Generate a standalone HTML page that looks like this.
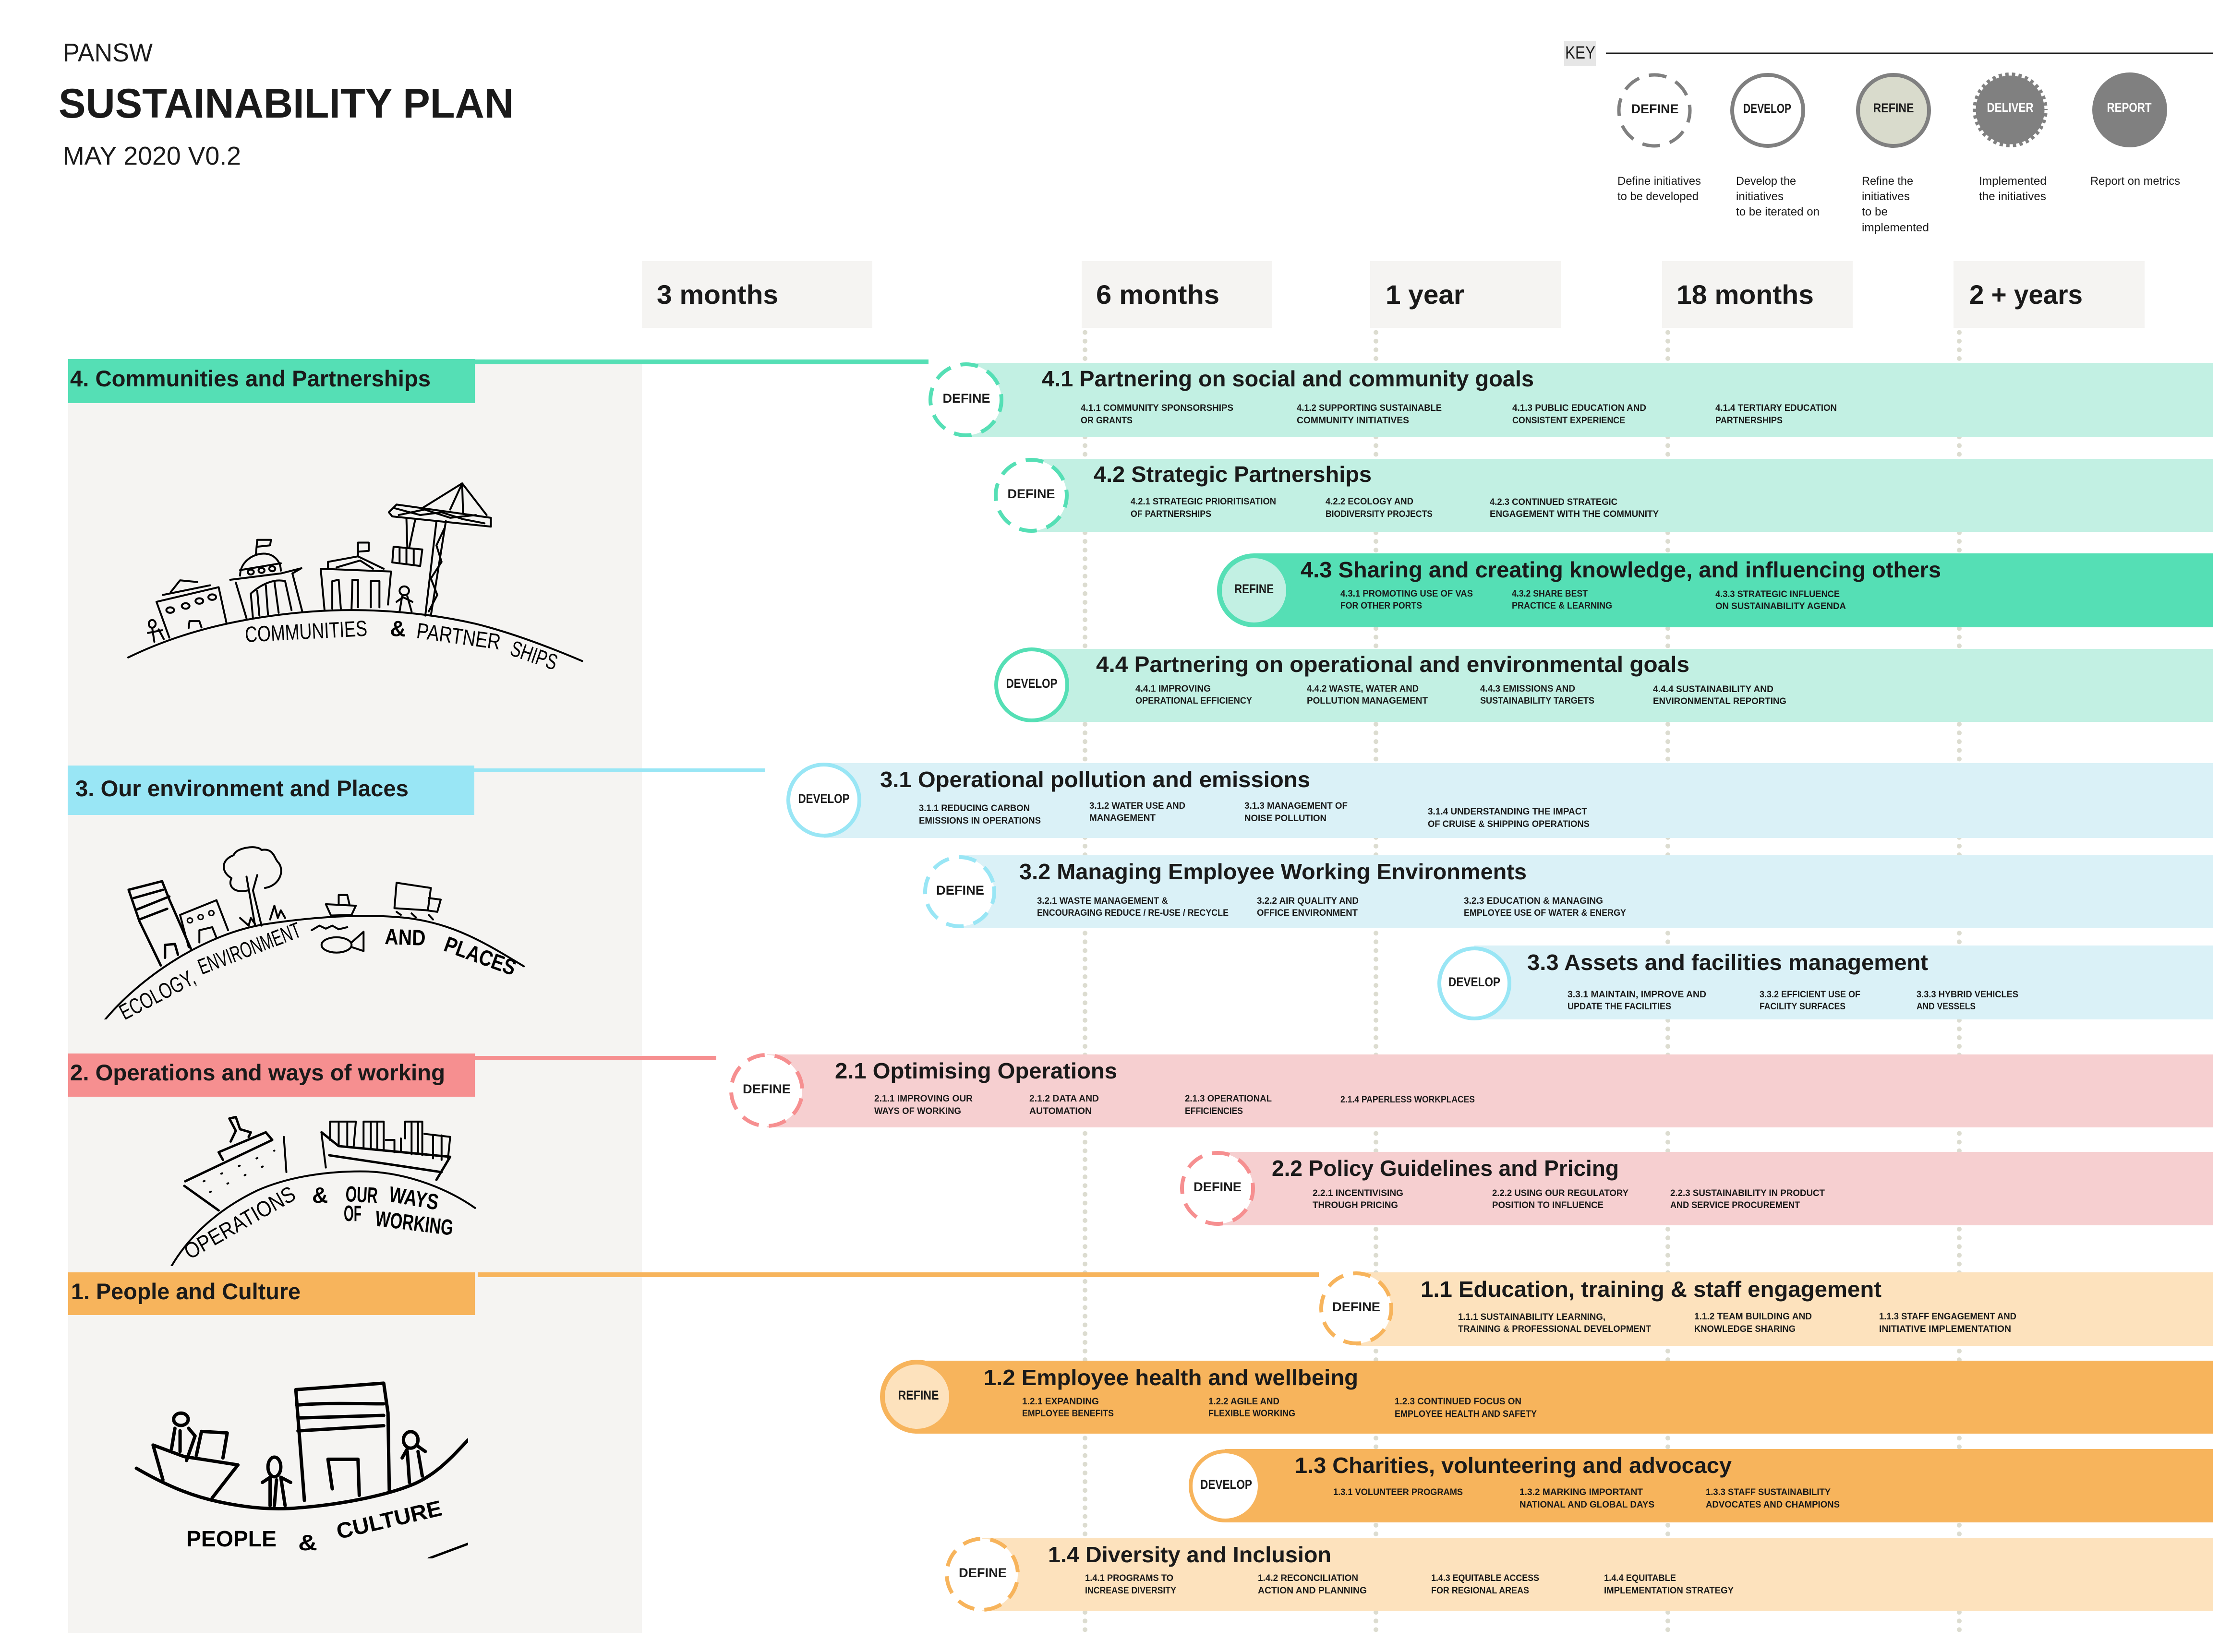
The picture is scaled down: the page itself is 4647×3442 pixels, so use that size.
<!DOCTYPE html>
<html lang="en"><head><meta charset="utf-8"><title>PANSW Sustainability Plan</title>
<style>
html,body{margin:0;padding:0;background:#fff}
svg{display:block}
text{font-family:"Liberation Sans",sans-serif;fill:#1a1a1a}
.t{font-size:46px;font-weight:700}
.s{font-size:19px;font-weight:700}
.c{font-size:27px;font-weight:700;text-anchor:middle}
.l{font-size:47px;font-weight:700}
.m{font-size:56px;font-weight:700}
.k{font-size:24px}
.d{fill:#fff;stroke-width:8;stroke-dasharray:37 21.1}
.o{stroke-width:8}
.h path,.h ellipse{fill:none;stroke:#000;stroke-linecap:round;stroke-linejoin:round;vector-effect:non-scaling-stroke}
.h text{font-size:46px;fill:#000}
</style></head><body>
<svg width="4647" height="3442" viewBox="0 0 4647 3442" xmlns="http://www.w3.org/2000/svg">
<defs>
<clipPath id="c3"><rect x="100" y="1700" width="1200" height="424"/></clipPath>
<clipPath id="c2"><rect x="300" y="2290" width="1000" height="348"/></clipPath>
<clipPath id="c1"><rect x="250" y="2800" width="725" height="447"/></clipPath>
</defs>
<rect width="4647" height="3442" fill="#fff"/>

<!-- header -->
<text x="131" y="128" font-size="54" textLength="187" lengthAdjust="spacingAndGlyphs">PANSW</text>
<text x="122" y="245" font-size="86" font-weight="700" textLength="948" lengthAdjust="spacingAndGlyphs">SUSTAINABILITY PLAN</text>
<text x="131" y="343" font-size="54" textLength="371" lengthAdjust="spacingAndGlyphs">MAY 2020 V0.2</text>

<!-- key -->
<rect x="3258" y="86" width="66" height="51" fill="#e6e6e6"/>
<text x="3260" y="122" font-size="37" textLength="63" lengthAdjust="spacingAndGlyphs">KEY</text>
<rect x="3345" y="109.500" width="1264" height="3" fill="#1a1a1a"/>
<circle cx="3446" cy="230" r="74" fill="#fff" stroke="#808080" stroke-width="7" stroke-dasharray="37 21.1" transform="rotate(-9 3446 230)"/>
<circle cx="3682" cy="230" r="74" fill="#fff" stroke="#808080" stroke-width="8"/>
<circle cx="3944" cy="230" r="74" fill="#d9dbcc" stroke="#808080" stroke-width="8"/>
<circle cx="4187" cy="229" r="78" fill="#808080"/>
<circle cx="4187" cy="229" r="75" fill="none" stroke="#fff" stroke-width="7" stroke-dasharray="7 7"/>
<circle cx="4436" cy="229" r="78" fill="#808080"/>
<text class="c" x="3447" y="236" textLength="99" lengthAdjust="spacingAndGlyphs">DEFINE</text>
<text class="c" x="3681" y="235" textLength="100" lengthAdjust="spacingAndGlyphs">DEVELOP</text>
<text class="c" x="3944" y="234" textLength="85" lengthAdjust="spacingAndGlyphs">REFINE</text>
<text class="c" x="4187" y="233" textLength="97" lengthAdjust="spacingAndGlyphs" style="fill:#fff">DELIVER</text>
<text class="c" x="4435" y="233" textLength="93" lengthAdjust="spacingAndGlyphs" style="fill:#fff">REPORT</text>
<text class="k" x="3369" y="385" textLength="174" lengthAdjust="spacingAndGlyphs">Define initiatives</text>
<text class="k" x="3369" y="417" textLength="169" lengthAdjust="spacingAndGlyphs">to be developed</text>
<text class="k" x="3616" y="385" textLength="125" lengthAdjust="spacingAndGlyphs">Develop the</text>
<text class="k" x="3616" y="417" textLength="99" lengthAdjust="spacingAndGlyphs">initiatives</text>
<text class="k" x="3616" y="449" textLength="174" lengthAdjust="spacingAndGlyphs">to be iterated on</text>
<text class="k" x="3878" y="385" textLength="107" lengthAdjust="spacingAndGlyphs">Refine the</text>
<text class="k" x="3878" y="417" textLength="100" lengthAdjust="spacingAndGlyphs">initiatives</text>
<text class="k" x="3878" y="449" textLength="54" lengthAdjust="spacingAndGlyphs">to be</text>
<text class="k" x="3878" y="482" textLength="140" lengthAdjust="spacingAndGlyphs">implemented</text>
<text class="k" x="4122" y="385" textLength="141" lengthAdjust="spacingAndGlyphs">Implemented</text>
<text class="k" x="4122" y="417" textLength="140" lengthAdjust="spacingAndGlyphs">the initiatives</text>
<text class="k" x="4354" y="385" textLength="187" lengthAdjust="spacingAndGlyphs">Report on metrics</text>

<!-- time headers -->
<g fill="#f5f4f2">
<rect x="1337" y="544" width="480" height="139"/>
<rect x="2253" y="544" width="397" height="139"/>
<rect x="2854" y="544" width="397" height="139"/>
<rect x="3462" y="544" width="397" height="139"/>
<rect x="4069" y="544" width="398" height="139"/>
</g>
<text class="m" x="1368" y="633" textLength="253" lengthAdjust="spacingAndGlyphs">3 months</text>
<text class="m" x="2283" y="633" textLength="257" lengthAdjust="spacingAndGlyphs">6 months</text>
<text class="m" x="2886" y="633" textLength="164" lengthAdjust="spacingAndGlyphs">1 year</text>
<text class="m" x="3492" y="633" textLength="286" lengthAdjust="spacingAndGlyphs">18 months</text>
<text class="m" x="4102" y="633" textLength="236" lengthAdjust="spacingAndGlyphs">2 + years</text>

<!-- left panel -->
<rect x="142" y="750" width="1195" height="2653" fill="#f5f4f2"/>

<!-- dotted time lines -->
<g stroke="#dcdcd0" stroke-width="10" stroke-linecap="round" stroke-dasharray="0 18.14" fill="none">
<path d="M2260 692.600V3400"/><path d="M2866 692.600V3400"/><path d="M3474 692.600V3400"/><path d="M4081 692.600V3400"/>
</g>

<!-- connector lines -->
<rect x="989" y="749" width="945" height="10" fill="#55dfb5"/>
<rect x="988" y="1601" width="606" height="8" fill="#99e6f5"/>
<rect x="989" y="2200" width="503" height="8" fill="#f68f90"/>
<rect x="995" y="2651" width="1752" height="10" fill="#f7b45c"/>

<!-- section labels -->
<rect x="142" y="748" width="847" height="92" fill="#55dfb5"/>
<rect x="141" y="1595" width="847" height="103" fill="#99e6f5"/>
<rect x="142" y="2195" width="847" height="90" fill="#f68f90"/>
<rect x="142" y="2651" width="847" height="89" fill="#f7b45c"/>
<text class="l" x="146" y="805" textLength="751" lengthAdjust="spacingAndGlyphs">4. Communities and Partnerships</text>
<text class="l" x="157" y="1659" textLength="694" lengthAdjust="spacingAndGlyphs">3. Our environment and Places</text>
<text class="l" x="146" y="2251" textLength="781" lengthAdjust="spacingAndGlyphs">2. Operations and ways of working</text>
<text class="l" x="148" y="2707" textLength="478" lengthAdjust="spacingAndGlyphs">1. People and Culture</text>

<!-- bars -->
<rect x="2012" y="756" width="2597" height="154" fill="#c2f0e3"/>
<rect x="2148" y="956" width="2461" height="152" fill="#c2f0e3"/>
<rect x="2612" y="1153" width="1997" height="154" fill="#55dfb5"/>
<rect x="2149" y="1352" width="2460" height="152" fill="#c2f0e3"/>
<rect x="1716" y="1590" width="2893" height="156" fill="#daf1f7"/>
<rect x="1999" y="1782" width="2610" height="152" fill="#daf1f7"/>
<rect x="3071" y="1970" width="1538" height="154" fill="#daf1f7"/>
<rect x="1597" y="2197" width="3012" height="152" fill="#f6cfd0"/>
<rect x="2536" y="2400" width="2073" height="153" fill="#f6cfd0"/>
<rect x="2825" y="2651" width="1784" height="153" fill="#fde2bd"/>
<rect x="1910" y="2835" width="2699" height="152" fill="#f7b45c"/>
<rect x="2552" y="3019" width="2057" height="153" fill="#f7b45c"/>
<rect x="2046" y="3204" width="2563" height="152" fill="#fde2bd"/>

<!-- circles -->
<circle class="d" cx="2012" cy="833" r="74" stroke="#55dfb5" transform="rotate(-9 2012 833)"/>
<circle class="d" cx="2148" cy="1032" r="74" stroke="#55dfb5" transform="rotate(-9 2148 1032)"/>
<circle cx="2612" cy="1230" r="72" fill="#c2f0e3" stroke="#55dfb5" stroke-width="10"/>
<circle class="o" cx="2149" cy="1427" r="74" fill="#fff" stroke="#55dfb5"/>
<circle class="o" cx="1716" cy="1667" r="74" fill="#fff" stroke="#99e6f5"/>
<circle class="d" cx="1999" cy="1858" r="72" stroke="#99e6f5" transform="rotate(-9 1999 1858)"/>
<circle class="o" cx="3071" cy="2049" r="73" fill="#fff" stroke="#99e6f5"/>
<circle class="d" cx="1597" cy="2272" r="74" stroke="#f68f90" transform="rotate(13 1597 2272)"/>
<circle class="d" cx="2536" cy="2476" r="74" stroke="#f68f90" transform="rotate(-9 2536 2476)"/>
<circle class="d" cx="2825" cy="2726" r="73" stroke="#f7b45c" transform="rotate(-9 2825 2726)"/>
<circle cx="1910" cy="2910" r="72" fill="#fde2bd" stroke="#f7b45c" stroke-width="10"/>
<circle class="o" cx="2552" cy="3096" r="72" fill="#fff" stroke="#f7b45c"/>
<circle class="d" cx="2046" cy="3280" r="74" stroke="#f7b45c" transform="rotate(13 2046 3280)"/>

<text class="c" x="2013" y="839" textLength="99" lengthAdjust="spacingAndGlyphs">DEFINE</text>
<text class="c" x="2148" y="1038" textLength="99" lengthAdjust="spacingAndGlyphs">DEFINE</text>
<text class="c" x="2612" y="1236" textLength="82" lengthAdjust="spacingAndGlyphs">REFINE</text>
<text class="c" x="2149" y="1433" textLength="107" lengthAdjust="spacingAndGlyphs">DEVELOP</text>
<text class="c" x="1716" y="1673" textLength="107" lengthAdjust="spacingAndGlyphs">DEVELOP</text>
<text class="c" x="2000" y="1864" textLength="100" lengthAdjust="spacingAndGlyphs">DEFINE</text>
<text class="c" x="3071" y="2055" textLength="108" lengthAdjust="spacingAndGlyphs">DEVELOP</text>
<text class="c" x="1597" y="2278" textLength="100" lengthAdjust="spacingAndGlyphs">DEFINE</text>
<text class="c" x="2536" y="2482" textLength="100" lengthAdjust="spacingAndGlyphs">DEFINE</text>
<text class="c" x="2825" y="2732" textLength="100" lengthAdjust="spacingAndGlyphs">DEFINE</text>
<text class="c" x="1913" y="2916" textLength="85" lengthAdjust="spacingAndGlyphs">REFINE</text>
<text class="c" x="2554" y="3102" textLength="108" lengthAdjust="spacingAndGlyphs">DEVELOP</text>
<text class="c" x="2047" y="3286" textLength="100" lengthAdjust="spacingAndGlyphs">DEFINE</text>

<!-- 4.x titles -->
<text class="t" x="2170" y="805" textLength="1025" lengthAdjust="spacingAndGlyphs">4.1 Partnering on social and community goals</text>
<text class="s" x="2251" y="856" textLength="318" lengthAdjust="spacingAndGlyphs">4.1.1 COMMUNITY SPONSORSHIPS</text>
<text class="s" x="2251" y="882" textLength="108" lengthAdjust="spacingAndGlyphs">OR GRANTS</text>
<text class="s" x="2701" y="856" textLength="302" lengthAdjust="spacingAndGlyphs">4.1.2 SUPPORTING SUSTAINABLE</text>
<text class="s" x="2701" y="882" textLength="234" lengthAdjust="spacingAndGlyphs">COMMUNITY INITIATIVES</text>
<text class="s" x="3150" y="856" textLength="279" lengthAdjust="spacingAndGlyphs">4.1.3 PUBLIC EDUCATION AND</text>
<text class="s" x="3150" y="882" textLength="235" lengthAdjust="spacingAndGlyphs">CONSISTENT EXPERIENCE</text>
<text class="s" x="3573" y="856" textLength="253" lengthAdjust="spacingAndGlyphs">4.1.4 TERTIARY EDUCATION</text>
<text class="s" x="3573" y="882" textLength="140" lengthAdjust="spacingAndGlyphs">PARTNERSHIPS</text>

<text class="t" x="2278" y="1004" textLength="579" lengthAdjust="spacingAndGlyphs">4.2 Strategic Partnerships</text>
<text class="s" x="2355" y="1051" textLength="303" lengthAdjust="spacingAndGlyphs">4.2.1 STRATEGIC PRIORITISATION</text>
<text class="s" x="2355" y="1077" textLength="168" lengthAdjust="spacingAndGlyphs">OF PARTNERSHIPS</text>
<text class="s" x="2761" y="1051" textLength="183" lengthAdjust="spacingAndGlyphs">4.2.2 ECOLOGY AND</text>
<text class="s" x="2761" y="1077" textLength="223" lengthAdjust="spacingAndGlyphs">BIODIVERSITY PROJECTS</text>
<text class="s" x="3103" y="1052" textLength="266" lengthAdjust="spacingAndGlyphs">4.2.3 CONTINUED STRATEGIC</text>
<text class="s" x="3103" y="1077" textLength="352" lengthAdjust="spacingAndGlyphs">ENGAGEMENT WITH THE COMMUNITY</text>

<text class="t" x="2709" y="1203" textLength="1334" lengthAdjust="spacingAndGlyphs">4.3 Sharing and creating knowledge, and influencing others</text>
<text class="s" x="2792" y="1243" textLength="276" lengthAdjust="spacingAndGlyphs">4.3.1 PROMOTING USE OF VAS</text>
<text class="s" x="2792" y="1268" textLength="170" lengthAdjust="spacingAndGlyphs">FOR OTHER PORTS</text>
<text class="s" x="3149" y="1243" textLength="158" lengthAdjust="spacingAndGlyphs">4.3.2 SHARE BEST</text>
<text class="s" x="3149" y="1268" textLength="209" lengthAdjust="spacingAndGlyphs">PRACTICE &amp; LEARNING</text>
<text class="s" x="3573" y="1244" textLength="259" lengthAdjust="spacingAndGlyphs">4.3.3 STRATEGIC INFLUENCE</text>
<text class="s" x="3573" y="1269" textLength="272" lengthAdjust="spacingAndGlyphs">ON SUSTAINABILITY AGENDA</text>

<text class="t" x="2283" y="1400" textLength="1236" lengthAdjust="spacingAndGlyphs">4.4 Partnering on operational and environmental goals</text>
<text class="s" x="2365" y="1441" textLength="157" lengthAdjust="spacingAndGlyphs">4.4.1 IMPROVING</text>
<text class="s" x="2365" y="1466" textLength="243" lengthAdjust="spacingAndGlyphs">OPERATIONAL EFFICIENCY</text>
<text class="s" x="2722" y="1441" textLength="233" lengthAdjust="spacingAndGlyphs">4.4.2 WASTE, WATER AND</text>
<text class="s" x="2722" y="1466" textLength="252" lengthAdjust="spacingAndGlyphs">POLLUTION MANAGEMENT</text>
<text class="s" x="3083" y="1441" textLength="198" lengthAdjust="spacingAndGlyphs">4.4.3 EMISSIONS AND</text>
<text class="s" x="3083" y="1466" textLength="238" lengthAdjust="spacingAndGlyphs">SUSTAINABILITY TARGETS</text>
<text class="s" x="3443" y="1442" textLength="251" lengthAdjust="spacingAndGlyphs">4.4.4 SUSTAINABILITY  AND</text>
<text class="s" x="3443" y="1467" textLength="278" lengthAdjust="spacingAndGlyphs">ENVIRONMENTAL REPORTING</text>

<!-- 3.x -->
<text class="t" x="1833" y="1640" textLength="896" lengthAdjust="spacingAndGlyphs">3.1 Operational pollution and emissions</text>
<text class="s" x="1914" y="1690" textLength="231" lengthAdjust="spacingAndGlyphs">3.1.1 REDUCING CARBON</text>
<text class="s" x="1914" y="1716" textLength="254" lengthAdjust="spacingAndGlyphs">EMISSIONS IN OPERATIONS</text>
<text class="s" x="2269" y="1685" textLength="200" lengthAdjust="spacingAndGlyphs">3.1.2 WATER USE AND</text>
<text class="s" x="2269" y="1710" textLength="138" lengthAdjust="spacingAndGlyphs">MANAGEMENT</text>
<text class="s" x="2592" y="1685" textLength="215" lengthAdjust="spacingAndGlyphs">3.1.3 MANAGEMENT OF</text>
<text class="s" x="2592" y="1711" textLength="171" lengthAdjust="spacingAndGlyphs">NOISE POLLUTION</text>
<text class="s" x="2974" y="1697" textLength="332" lengthAdjust="spacingAndGlyphs">3.1.4 UNDERSTANDING THE IMPACT</text>
<text class="s" x="2974" y="1723" textLength="337" lengthAdjust="spacingAndGlyphs">OF CRUISE &amp; SHIPPING OPERATIONS</text>

<text class="t" x="2123" y="1832" textLength="1057" lengthAdjust="spacingAndGlyphs">3.2 Managing Employee Working Environments</text>
<text class="s" x="2160" y="1883" textLength="273" lengthAdjust="spacingAndGlyphs">3.2.1 WASTE MANAGEMENT &amp;</text>
<text class="s" x="2160" y="1908" textLength="399" lengthAdjust="spacingAndGlyphs">ENCOURAGING REDUCE / RE-USE / RECYCLE</text>
<text class="s" x="2618" y="1883" textLength="212" lengthAdjust="spacingAndGlyphs">3.2.2 AIR QUALITY AND</text>
<text class="s" x="2618" y="1908" textLength="210" lengthAdjust="spacingAndGlyphs">OFFICE ENVIRONMENT</text>
<text class="s" x="3049" y="1883" textLength="290" lengthAdjust="spacingAndGlyphs">3.2.3 EDUCATION &amp; MANAGING</text>
<text class="s" x="3049" y="1908" textLength="338" lengthAdjust="spacingAndGlyphs">EMPLOYEE USE OF WATER &amp; ENERGY</text>

<text class="t" x="3181" y="2021" textLength="835" lengthAdjust="spacingAndGlyphs">3.3 Assets and facilities management</text>
<text class="s" x="3265" y="2078" textLength="289" lengthAdjust="spacingAndGlyphs">3.3.1 MAINTAIN, IMPROVE AND</text>
<text class="s" x="3265" y="2103" textLength="216" lengthAdjust="spacingAndGlyphs">UPDATE THE FACILITIES</text>
<text class="s" x="3665" y="2078" textLength="210" lengthAdjust="spacingAndGlyphs">3.3.2 EFFICIENT USE OF</text>
<text class="s" x="3665" y="2103" textLength="179" lengthAdjust="spacingAndGlyphs">FACILITY SURFACES</text>
<text class="s" x="3992" y="2078" textLength="212" lengthAdjust="spacingAndGlyphs">3.3.3 HYBRID VEHICLES</text>
<text class="s" x="3992" y="2103" textLength="123" lengthAdjust="spacingAndGlyphs">AND VESSELS</text>

<!-- 2.x -->
<text class="t" x="1739" y="2247" textLength="588" lengthAdjust="spacingAndGlyphs">2.1 Optimising Operations</text>
<text class="s" x="1821" y="2295" textLength="205" lengthAdjust="spacingAndGlyphs">2.1.1 IMPROVING OUR</text>
<text class="s" x="1821" y="2321" textLength="181" lengthAdjust="spacingAndGlyphs">WAYS OF WORKING</text>
<text class="s" x="2144" y="2295" textLength="145" lengthAdjust="spacingAndGlyphs">2.1.2 DATA AND</text>
<text class="s" x="2144" y="2321" textLength="130" lengthAdjust="spacingAndGlyphs">AUTOMATION</text>
<text class="s" x="2468" y="2295" textLength="181" lengthAdjust="spacingAndGlyphs">2.1.3 OPERATIONAL</text>
<text class="s" x="2468" y="2321" textLength="121" lengthAdjust="spacingAndGlyphs">EFFICIENCIES</text>
<text class="s" x="2792" y="2297" textLength="280" lengthAdjust="spacingAndGlyphs">2.1.4 PAPERLESS WORKPLACES</text>

<text class="t" x="2649" y="2450" textLength="723" lengthAdjust="spacingAndGlyphs">2.2 Policy Guidelines and Pricing</text>
<text class="s" x="2734" y="2492" textLength="189" lengthAdjust="spacingAndGlyphs">2.2.1 INCENTIVISING</text>
<text class="s" x="2734" y="2517" textLength="178" lengthAdjust="spacingAndGlyphs">THROUGH PRICING</text>
<text class="s" x="3108" y="2492" textLength="284" lengthAdjust="spacingAndGlyphs">2.2.2 USING OUR REGULATORY</text>
<text class="s" x="3108" y="2517" textLength="232" lengthAdjust="spacingAndGlyphs">POSITION TO INFLUENCE</text>
<text class="s" x="3479" y="2492" textLength="322" lengthAdjust="spacingAndGlyphs">2.2.3 SUSTAINABILITY IN PRODUCT</text>
<text class="s" x="3479" y="2517" textLength="270" lengthAdjust="spacingAndGlyphs">AND SERVICE PROCUREMENT</text>

<!-- 1.x -->
<text class="t" x="2959" y="2702" textLength="960" lengthAdjust="spacingAndGlyphs">1.1 Education, training &amp; staff engagement</text>
<text class="s" x="3037" y="2750" textLength="307" lengthAdjust="spacingAndGlyphs">1.1.1 SUSTAINABILITY LEARNING,</text>
<text class="s" x="3037" y="2775" textLength="402" lengthAdjust="spacingAndGlyphs">TRAINING &amp; PROFESSIONAL DEVELOPMENT</text>
<text class="s" x="3529" y="2749" textLength="245" lengthAdjust="spacingAndGlyphs">1.1.2 TEAM BUILDING AND</text>
<text class="s" x="3529" y="2775" textLength="211" lengthAdjust="spacingAndGlyphs">KNOWLEDGE SHARING</text>
<text class="s" x="3914" y="2749" textLength="286" lengthAdjust="spacingAndGlyphs">1.1.3 STAFF ENGAGEMENT AND</text>
<text class="s" x="3914" y="2775" textLength="275" lengthAdjust="spacingAndGlyphs">INITIATIVE IMPLEMENTATION</text>

<text class="t" x="2049" y="2886" textLength="780" lengthAdjust="spacingAndGlyphs">1.2 Employee health and wellbeing</text>
<text class="s" x="2129" y="2926" textLength="160" lengthAdjust="spacingAndGlyphs">1.2.1 EXPANDING</text>
<text class="s" x="2129" y="2951" textLength="191" lengthAdjust="spacingAndGlyphs">EMPLOYEE BENEFITS</text>
<text class="s" x="2517" y="2926" textLength="148" lengthAdjust="spacingAndGlyphs">1.2.2 AGILE AND</text>
<text class="s" x="2517" y="2951" textLength="181" lengthAdjust="spacingAndGlyphs">FLEXIBLE WORKING</text>
<text class="s" x="2905" y="2926" textLength="264" lengthAdjust="spacingAndGlyphs">1.2.3 CONTINUED FOCUS ON</text>
<text class="s" x="2905" y="2952" textLength="296" lengthAdjust="spacingAndGlyphs">EMPLOYEE HEALTH AND SAFETY</text>

<text class="t" x="2697" y="3069" textLength="910" lengthAdjust="spacingAndGlyphs">1.3 Charities, volunteering and advocacy</text>
<text class="s" x="2777" y="3115" textLength="270" lengthAdjust="spacingAndGlyphs">1.3.1 VOLUNTEER PROGRAMS</text>
<text class="s" x="3165" y="3115" textLength="257" lengthAdjust="spacingAndGlyphs">1.3.2 MARKING IMPORTANT</text>
<text class="s" x="3165" y="3141" textLength="281" lengthAdjust="spacingAndGlyphs">NATIONAL AND GLOBAL DAYS</text>
<text class="s" x="3553" y="3115" textLength="260" lengthAdjust="spacingAndGlyphs">1.3.3 STAFF SUSTAINABILITY</text>
<text class="s" x="3553" y="3141" textLength="279" lengthAdjust="spacingAndGlyphs">ADVOCATES AND CHAMPIONS</text>

<text class="t" x="2183" y="3255" textLength="590" lengthAdjust="spacingAndGlyphs">1.4 Diversity and Inclusion</text>
<text class="s" x="2260" y="3294" textLength="184" lengthAdjust="spacingAndGlyphs">1.4.1 PROGRAMS TO</text>
<text class="s" x="2260" y="3320" textLength="190" lengthAdjust="spacingAndGlyphs">INCREASE DIVERSITY</text>
<text class="s" x="2620" y="3294" textLength="209" lengthAdjust="spacingAndGlyphs">1.4.2 RECONCILIATION</text>
<text class="s" x="2620" y="3320" textLength="227" lengthAdjust="spacingAndGlyphs">ACTION AND PLANNING</text>
<text class="s" x="2981" y="3294" textLength="225" lengthAdjust="spacingAndGlyphs">1.4.3 EQUITABLE ACCESS</text>
<text class="s" x="2981" y="3320" textLength="204" lengthAdjust="spacingAndGlyphs">FOR REGIONAL AREAS</text>
<text class="s" x="3341" y="3294" textLength="150" lengthAdjust="spacingAndGlyphs">1.4.4 EQUITABLE</text>
<text class="s" x="3341" y="3320" textLength="270" lengthAdjust="spacingAndGlyphs">IMPLEMENTATION STRATEGY</text>

<!-- illustration 4 -->
<g class="h" stroke-width="4">
<g transform="translate(0 700) scale(.893 .574)" style="stroke-width:4">
<path style="stroke-width:4" d="M299 1167C420 1075 560 1020 730 1000C860 985 1000 1005 1110 1045C1200 1080 1290 1135 1358 1180"/>
<path style="stroke-width:4" d="M365 965L510 912L528 1040M365 965L395 1095M380 940L490 905M398 930L420 887L460 893M440 1060L442 1035H465L470 1058"/>
<ellipse style="stroke-width:4" cx="397" cy="995" rx="9" ry="10"/><ellipse style="stroke-width:4" cx="433" cy="980" rx="9" ry="10"/><ellipse style="stroke-width:4" cx="465" cy="962" rx="9" ry="10"/><ellipse style="stroke-width:4" cx="495" cy="948" rx="9" ry="10"/>
<ellipse style="stroke-width:4" cx="355" cy="1045" rx="8" ry="14"/>
<path style="stroke-width:4" d="M355 1060L360 1110M370 1065L382 1100M345 1078L378 1068"/>
<path style="stroke-width:4" d="M537 885L655 862L703 843L682 862L705 1000M550 895L575 1025M560 870C560 820 590 790 615 790C640 790 655 820 655 852M560 850L655 825M597 790L600 740H632L630 760L600 765"/>
<ellipse style="stroke-width:4" cx="585" cy="857" rx="7" ry="9"/><ellipse style="stroke-width:4" cx="610" cy="851" rx="7" ry="9"/><ellipse style="stroke-width:4" cx="635" cy="845" rx="7" ry="9"/>
<path style="stroke-width:4" d="M590 1025L585 935C610 900 640 880 665 890L680 995M605 1015L600 925M625 1010L620 905M650 1005L640 890"/>
<path style="stroke-width:4" d="M757 995L748 845L912 855L905 975M775 990V890L790 885L795 990M820 990L822 885H835L835 985M865 985V890H885V985M765 840V820L835 800L895 845M785 840L840 815L870 845M835 800V750H860V780L835 783"/>
<ellipse style="stroke-width:4" cx="943" cy="925" rx="11" ry="16"/>
<path style="stroke-width:4" d="M938 945L932 1000M950 945L960 1000M925 965L940 948L962 965"/>
<path style="stroke-width:4" d="M992 1015L1018 672M1005 1015L1040 672M1000 1000L1020 940L1005 880L1030 820L1018 760L1036 700"/>
<path style="stroke-width:4" d="M907 640L925 612L1145 660V692L915 655ZM920 625L980 650L1030 640L1080 665L1130 680M930 650L990 630L1050 660L1110 650"/>
<path style="stroke-width:4" d="M985 625L1078 535L1135 650M1050 630L1078 535L1080 640M948 665L950 765M968 670L955 765M918 765L985 775L980 835L915 822ZM932 770V820M948 772V825M965 775V828"/>
</g>
<text transform="translate(511 1338) rotate(-3)" textLength="255" lengthAdjust="spacingAndGlyphs">COMMUNITIES</text>
<text transform="translate(812 1325) rotate(2)" font-weight="700" font-size="40">&amp;</text>
<text transform="translate(866 1329) rotate(8)" textLength="176" lengthAdjust="spacingAndGlyphs">PARTNER</text>
<text transform="translate(1060 1364) rotate(19)" textLength="100" lengthAdjust="spacingAndGlyphs">SHIPS</text>
</g>

<!-- illustration 3 -->
<g class="h" clip-path="url(#c3)">
<g transform="translate(0 1600) scale(.893 .638)">
<path style="stroke-width:4" d="M245 822C330 680 480 540 620 510C760 480 870 478 950 490C1060 510 1130 570 1222 648"/>
<path style="stroke-width:5" d="M300 398L378 370L395 430L445 590M300 398L325 500L375 645M312 425L380 398M320 462L395 420M325 495L390 460M385 620V578L408 575L415 610"/>
<path style="stroke-width:4" d="M420 480L505 432L532 530M420 480L440 585M465 570V530L495 520L505 555"/>
<ellipse style="stroke-width:3" cx="443" cy="498" rx="6" ry="8"/><ellipse style="stroke-width:3" cx="468" cy="487" rx="6" ry="8"/><ellipse style="stroke-width:3" cx="493" cy="474" rx="6" ry="8"/>
<path style="stroke-width:4" d="M575 355L595 515M600 350L590 400L610 515M578 400C550 410 530 390 540 360C515 340 515 300 545 285C550 260 600 250 610 268C640 260 640 300 650 310C665 340 650 385 618 392"/>
<path style="stroke-width:4" d="M560 490L580 515L585 490L595 510M630 495L640 450L648 490L655 465L665 490"/>
<path style="stroke-width:4" d="M760 445L830 450L820 480L772 482ZM790 445V415H810L815 445"/>
<path style="stroke-width:4" d="M925 375L1005 392L998 465L920 458ZM1000 425L1028 430L1020 470L995 465M925 470L935 480M960 475L970 488M1000 480L1010 495"/>
<path style="stroke-width:4" d="M727 530L745 515L760 525L775 515L790 527L810 520"/>
<ellipse style="stroke-width:4" cx="785" cy="578" rx="35" ry="25"/>
<path style="stroke-width:4" d="M820 570L848 535V598L820 585"/>
</g>
<text transform="translate(259 2126) rotate(-27.500)" textLength="171" lengthAdjust="spacingAndGlyphs">ECOLOGY,</text>
<text transform="translate(420 2031) rotate(-21)" textLength="225" lengthAdjust="spacingAndGlyphs">ENVIRONMENT</text>
<text transform="translate(801 1967) rotate(2)" font-weight="700" textLength="85" lengthAdjust="spacingAndGlyphs">AND</text>
<text transform="translate(922 1980) rotate(20)" font-weight="700" textLength="155" lengthAdjust="spacingAndGlyphs">PLACES</text>
</g>

<!-- illustration 2 -->
<g class="h" clip-path="url(#c2)">
<g transform="translate(0 1600) scale(.893 .638)">
<path style="stroke-width:4" d="M400 1627C440 1530 510 1440 600 1380C680 1330 780 1315 860 1318C960 1325 1050 1380 1108 1437"/>
<path style="stroke-width:5" d="M432 1350L635 1215L620 1190L510 1255L520 1280M430 1365L510 1445M538 1220L550 1185L535 1145L550 1140L560 1180L585 1190L580 1205"/>
<path style="stroke-width:4;stroke-dasharray:2 38" d="M475 1350L640 1250M490 1385L630 1290"/>
<path style="stroke-width:4" d="M662 1205L668 1320M750 1195L760 1305"/>
<path style="stroke-width:5" d="M750 1190L790 1235L1050 1270L1018 1345M768 1265L1030 1320"/>
<path style="stroke-width:4" d="M770 1215V1155H830L825 1235M790 1160V1230M810 1160V1235M848 1240V1155H895V1250M865 1160V1240M880 1160V1245M900 1215H920V1255M945 1210V1155H985V1265M960 1160V1262M975 1160V1262M935 1255V1210M990 1195L1050 1205L1045 1275M1010 1200V1275M1030 1200V1280"/>
</g>
<text transform="translate(395 2625) rotate(-29.700)" textLength="258" lengthAdjust="spacingAndGlyphs">OPERATIONS</text>
<text x="650" y="2506" font-weight="700" font-size="40">&amp;</text>
<text transform="translate(719 2503) rotate(3)" font-weight="700" textLength="67" lengthAdjust="spacingAndGlyphs">OUR</text>
<text transform="translate(808 2503) rotate(10)" font-weight="700" textLength="104" lengthAdjust="spacingAndGlyphs">WAYS</text>
<text x="716" y="2544" font-size="32" font-weight="700" textLength="37" lengthAdjust="spacingAndGlyphs">OF</text>
<text transform="translate(780 2554) rotate(7)" font-size="40" font-weight="700" textLength="163" lengthAdjust="spacingAndGlyphs">WORKING</text>
</g>

<!-- illustration 1 -->
<g class="h" clip-path="url(#c1)">
<g transform="translate(0 2600) scale(.893 .537)">
<path style="stroke-width:7" d="M318 855C380 915 440 960 510 985C580 1010 640 1018 700 1008C800 995 900 960 960 920C1020 880 1060 800 1092 745"/>
<path style="stroke-width:5" d="M1000 1205L1092 1148"/>
<path style="stroke-width:7" d="M380 900L357 765L430 810L470 820L555 842L495 970M458 805L470 712L530 718L520 815"/>
<ellipse style="stroke-width:7" cx="422" cy="665" rx="17" ry="24"/>
<path style="stroke-width:7" d="M408 700L400 780M440 700L455 730L435 825M420 710V790"/>
<ellipse style="stroke-width:7" cx="640" cy="850" rx="15" ry="38"/>
<path style="stroke-width:7" d="M630 1000V890L612 910M665 1000L655 890L678 910M645 900L640 1000"/>
<path style="stroke-width:7" d="M710 980L690 550L895 525L905 640L908 940M692 610C760 600 830 605 895 605M695 660L895 650M695 710L895 690M765 820L835 820L838 960M765 820L775 935"/>
<ellipse style="stroke-width:7" cx="958" cy="745" rx="17" ry="32"/>
<path style="stroke-width:7" d="M950 790L955 910M975 790L985 885M938 815L950 780M992 790L975 770"/>
</g>
<text x="388" y="3222" font-size="86" font-weight="700" textLength="188" lengthAdjust="spacingAndGlyphs">PEOPLE</text>
<text x="621" y="3230" font-size="78" font-weight="700" textLength="40" lengthAdjust="spacingAndGlyphs">&amp;</text>
<text transform="translate(705 3207) rotate(-13)" font-size="76" font-weight="700" textLength="224" lengthAdjust="spacingAndGlyphs">CULTURE</text>
</g>
</svg>
</body></html>
